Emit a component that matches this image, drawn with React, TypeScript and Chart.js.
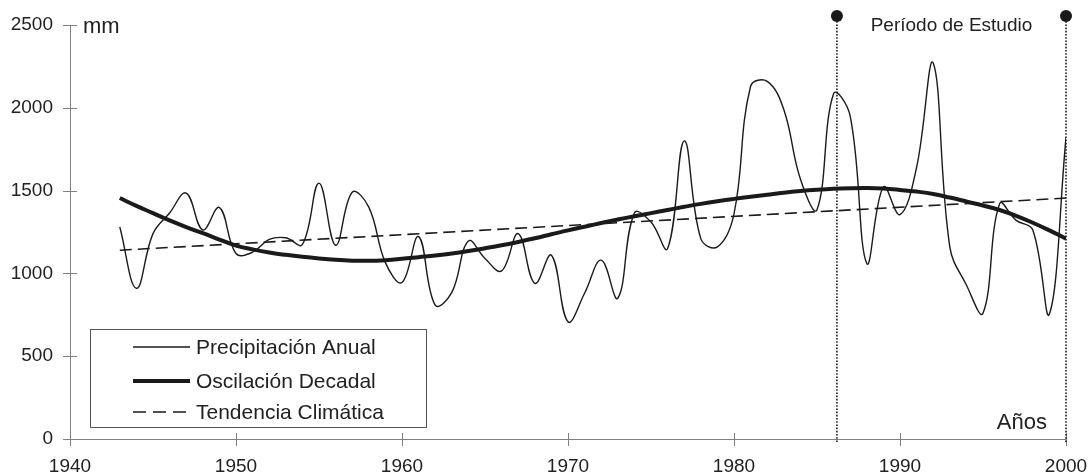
import React, { useEffect, useRef } from "react";
import { Chart, registerables } from "chart.js";

Chart.register(...registerables);

const years = [
  1943, 1944, 1945, 1946, 1947, 1948, 1949, 1950, 1951, 1952,
  1953, 1954, 1955, 1956, 1957, 1958, 1959, 1960, 1961, 1962,
  1963, 1964, 1965, 1966, 1967, 1968, 1969, 1970, 1971, 1972,
  1973, 1974, 1975, 1976, 1977, 1978, 1979, 1980, 1981, 1982,
  1983, 1984, 1985, 1986, 1987, 1988, 1989, 1990, 1991, 1992,
  1993, 1994, 1995, 1996, 1997, 1998, 1999, 2000,
];

const precipitation = [
  1280, 910, 1240, 1365, 1485, 1262, 1398, 1120, 1128, 1205,
  1215, 1175, 1545, 1170, 1490, 1400, 1065, 945, 1222, 808,
  885, 1195, 1090, 1015, 1240, 940, 1110, 708, 880, 1080,
  850, 1365, 1310, 1150, 1800, 1210, 1160, 1360, 2130, 2160,
  1990, 1570, 1385, 2085, 1950, 1060, 1522, 1355, 1640, 2270,
  1160, 930, 760, 1420, 1320, 1262, 755, 1820,
];

const decadal = [
  1455, 1408, 1364, 1320, 1280, 1243, 1204, 1168, 1145, 1126,
  1112, 1100, 1090, 1082, 1077, 1076, 1080, 1088, 1098, 1108,
  1120, 1135, 1152, 1170, 1190, 1212, 1236, 1260, 1282, 1304,
  1325, 1345, 1364, 1383, 1402, 1420, 1436, 1450, 1463, 1475,
  1487, 1497, 1505, 1511, 1514, 1515, 1512, 1504, 1494, 1480,
  1458, 1434, 1410, 1383, 1348, 1306, 1260, 1210,
];

const trendYears = [1943, 2000];
const trendValues = [1140, 1455];

const studyPeriod = [1986.2, 2000];
const xTicks = [1940, 1950, 1960, 1970, 1980, 1990, 2000];
const yTicks = [0, 500, 1000, 1500, 2000, 2500];

const seriesLabels = ["Precipitación Anual", "Oscilación Decadal", "Tendencia Climática"];
const yUnit = "mm";
const xUnit = "Años";
const periodLabel = "Período de Estudio";

const FONT = "'Liberation Sans', Arial, sans-serif";
const AXIS_COLOR = "#808080";
const INK = "#1a1a1a";
const TEXT = "#222222";

const decorPlugin = {
  id: "decor",
  beforeDatasetsDraw(chart: any) {
    const ctx = chart.ctx;
    const x = chart.scales.x;
    const y = chart.scales.y;
    const area = chart.chartArea;
    ctx.save();
    ctx.strokeStyle = AXIS_COLOR;
    ctx.lineWidth = 1;
    ctx.beginPath();
    xTicks.forEach((t) => {
      const px = Math.round(x.getPixelForValue(t)) + 0.5;
      ctx.moveTo(px, area.bottom - 6);
      ctx.lineTo(px, area.bottom + 7);
    });
    yTicks.forEach((t) => {
      const py = Math.round(y.getPixelForValue(t)) + 0.5;
      ctx.moveTo(area.left - 7, py);
      ctx.lineTo(area.left + 7, py);
    });
    ctx.stroke();
    ctx.restore();
  },
  afterDatasetsDraw(chart: any) {
    const ctx = chart.ctx;
    const x = chart.scales.x;
    const y = chart.scales.y;
    const area = chart.chartArea;
    ctx.save();

    // study period markers
    const dotY = area.top - 9;
    studyPeriod.forEach((yr) => {
      const px = x.getPixelForValue(yr);
      ctx.strokeStyle = INK;
      ctx.lineWidth = 1.6;
      ctx.setLineDash([1.6, 1.6]);
      ctx.beginPath();
      ctx.moveTo(px, y.getPixelForValue(0) + 3);
      ctx.lineTo(px, dotY);
      ctx.stroke();
      ctx.setLineDash([]);
      ctx.fillStyle = INK;
      ctx.beginPath();
      ctx.arc(px, dotY, 6, 0, Math.PI * 2);
      ctx.fill();
    });
    const midX = (x.getPixelForValue(studyPeriod[0]) + x.getPixelForValue(studyPeriod[1])) / 2;
    ctx.fillStyle = TEXT;
    ctx.font = `19px ${FONT}`;
    ctx.textAlign = "center";
    ctx.textBaseline = "middle";
    ctx.fillText(periodLabel, midX, area.top + 1);

    // axis units
    ctx.font = `22px ${FONT}`;
    ctx.textAlign = "left";
    ctx.fillText(yUnit, area.left + 13, area.top + 2);
    ctx.textAlign = "right";
    ctx.fillText(xUnit, area.right - 19, area.bottom - 16);

    // legend
    const bx = 90.5, by = 329.5, bw = 336, bh = 98;
    ctx.fillStyle = "#ffffff";
    ctx.fillRect(bx, by, bw, bh);
    ctx.strokeStyle = "#555555";
    ctx.lineWidth = 1;
    ctx.strokeRect(bx, by, bw, bh);
    const rows = [347, 381, 412];
    chart.data.datasets.forEach((ds: any, i: number) => {
      const ry = rows[i];
      ctx.strokeStyle = ds.borderColor;
      ctx.lineWidth = ds.borderWidth;
      ctx.setLineDash(ds.legendDash || []);
      ctx.beginPath();
      ctx.moveTo(133, ry);
      ctx.lineTo(190, ry);
      ctx.stroke();
      ctx.setLineDash([]);
      ctx.fillStyle = TEXT;
      ctx.font = `21px ${FONT}`;
      ctx.textAlign = "left";
      ctx.textBaseline = "middle";
      ctx.fillText(ds.label, 196, ry + 1);
    });
    ctx.restore();
  },
};

export default function App() {
  const canvasRef = useRef<HTMLCanvasElement | null>(null);

  useEffect(() => {
    const canvas = canvasRef.current;
    if (!canvas) return;
    const chart = new Chart(canvas, {
      type: "line",
      data: {
        datasets: [
          {
            label: seriesLabels[0],
            data: years.map((yr, i) => ({ x: yr, y: precipitation[i] })),
            borderColor: INK,
            borderWidth: 1.4,
            pointRadius: 0,
            tension: 0.4,
            fill: false,
          },
          {
            label: seriesLabels[1],
            data: years.map((yr, i) => ({ x: yr, y: decadal[i] })),
            borderColor: INK,
            borderWidth: 4,
            pointRadius: 0,
            tension: 0.4,
            fill: false,
          },
          {
            label: seriesLabels[2],
            data: trendYears.map((yr, i) => ({ x: yr, y: trendValues[i] })),
            borderColor: INK,
            borderWidth: 1.6,
            borderDash: [12, 6],
            legendDash: [13, 7],
            pointRadius: 0,
            tension: 0,
            fill: false,
          },
        ],
      },
      options: {
        animation: false,
        responsive: false,
        devicePixelRatio: 1,
        layout: { padding: { top: 25, right: 22, left: 0, bottom: 0 } },
        plugins: { legend: { display: false }, tooltip: { enabled: false } },
        scales: {
          x: {
            type: "linear",
            min: 1940,
            max: 2000,
            afterBuildTicks: (s: any) => {
              s.ticks = xTicks.map((v) => ({ value: v }));
            },
            ticks: {
              padding: 16,
              color: TEXT,
              font: { family: FONT, size: 19 },
              callback: (v: any) => String(v),
              maxRotation: 0,
              autoSkip: false,
            },
            grid: { display: false, drawTicks: false },
            border: { display: true, color: AXIS_COLOR, width: 1 },
            afterFit: (s: any) => {
              s.height = 37;
              s.paddingLeft = 0;
              s.paddingRight = 0;
            },
          },
          y: {
            type: "linear",
            min: 0,
            max: 2500,
            afterBuildTicks: (s: any) => {
              s.ticks = yTicks.map((v) => ({ value: v }));
            },
            ticks: {
              padding: 17,
              color: TEXT,
              font: { family: FONT, size: 19 },
              callback: (v: any) => String(v),
            },
            grid: { display: false, drawTicks: false },
            border: { display: true, color: AXIS_COLOR, width: 1 },
            afterFit: (s: any) => {
              s.width = 70;
              s.paddingTop = 0;
              s.paddingBottom = 0;
            },
          },
        },
      },
      plugins: [decorPlugin],
    } as any);
    return () => chart.destroy();
  }, []);

  return (
    <div style={{ position: "fixed", left: 0, top: 0, width: 1088, height: 476, background: "#fff" }}>
      <canvas ref={canvasRef} width={1088} height={476} style={{ display: "block" }} />
    </div>
  );
}
